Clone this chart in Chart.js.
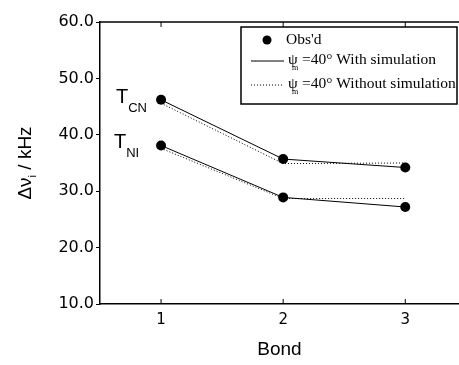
<!DOCTYPE html>
<html>
<head>
<meta charset="utf-8">
<script src="https://cdn.jsdelivr.net/npm/chart.js@4"></script>
<style>
  html, body { margin: 0; padding: 0; background: #fff; }
  #wrap { width: 459px; height: 365px; }
</style>
</head>
<body>
<div id="wrap"><canvas id="chart" width="459" height="365"></canvas></div>
<script>
// values
const bonds = [1, 2, 3];
const obsCN = [46.2, 35.7, 34.2];
const obsNI = [38.1, 28.9, 27.2];
const withSimCN = [46.2, 35.7, 34.2];
const withSimNI = [38.1, 28.9, 27.2];
const withoutSimCN = [45.6, 34.9, 35.0];
const withoutSimNI = [37.6, 28.7, 28.7];
const yTicks = [10, 20, 30, 40, 50, 60];
const legendLabels = ['Obs\'d', '=40° With simulation', '=40° Without simulation'];

const toPts = (ys) => bonds.map((b, i) => ({ x: b, y: ys[i] }));

// boxed legend, series labels, axis title with subscript, inward ticks
const extras = {
    id: 'extras',
    afterDraw(chart) {
        const ctx = chart.ctx;
        const area = chart.chartArea;
        const xs = chart.scales.x;
        const ys = chart.scales.y;
        ctx.save();
        ctx.strokeStyle = '#000';
        ctx.fillStyle = '#000';

        // top border and inward x ticks
        ctx.lineWidth = 1.5;
        ctx.beginPath();
        ctx.moveTo(area.left, area.top);
        ctx.lineTo(area.right, area.top);
        ctx.stroke();
        ctx.lineWidth = 1;
        bonds.forEach(b => {
            const px = xs.getPixelForValue(b);
            ctx.beginPath();
            ctx.moveTo(px, area.bottom);
            ctx.lineTo(px, area.bottom - 5);
            ctx.moveTo(px, area.top);
            ctx.lineTo(px, area.top + 5);
            ctx.stroke();
        });

        // T_CN / T_NI
        const tLabel = (main, sub, x, y, subDy) => {
            ctx.font = '20px "Liberation Sans"';
            ctx.textAlign = 'left';
            ctx.textBaseline = 'alphabetic';
            ctx.fillText(main, x, y);
            const w = ctx.measureText(main).width;
            ctx.font = '13px "Liberation Sans"';
            ctx.fillText(sub, x + w, y + subDy);
        };
        tLabel('T', 'CN', xs.left + 16, ys.getPixelForValue(45.6), 9);
        tLabel('T', 'NI', xs.left + 14, ys.getPixelForValue(37.6), 9);

        // y axis title: Δν_i / kHz
        ctx.save();
        ctx.translate(31, 163);
        ctx.rotate(-Math.PI / 2);
        const big = '19px "Liberation Sans"';
        const small = '11px "Liberation Sans"';
        const a = 'Δν';
        const c = ' / kHz';
        ctx.font = small;
        const wSub = ctx.measureText('i').width;
        ctx.font = big;
        const wA = ctx.measureText(a).width;
        const wC = ctx.measureText(c).width;
        const x0 = -(wA + wSub + wC) / 2;
        ctx.textAlign = 'left';
        ctx.fillText(a, x0, 0);
        ctx.font = small;
        ctx.fillText('i', x0 + wA, 5);
        ctx.font = big;
        ctx.fillText(c, x0 + wA + wSub, 0);
        ctx.restore();

        // legend box
        const lx = 241, ly = 27, lw = 216, lh = 77;
        ctx.fillStyle = '#fff';
        ctx.fillRect(lx, ly, lw, lh);
        ctx.fillStyle = '#000';
        ctx.lineWidth = 1.5;
        ctx.strokeRect(lx, ly, lw, lh);
        ctx.lineWidth = 1;

        ctx.beginPath();
        ctx.arc(267, 40, 4.5, 0, Math.PI * 2);
        ctx.fill();
        ctx.font = '15.5px "Liberation Serif"';
        ctx.textAlign = 'left';
        ctx.fillText(legendLabels[0], 286, 44);

        const rows = [[64, [], legendLabels[1]], [88, [1, 2], legendLabels[2]]];
        rows.forEach(([y, dash, label]) => {
            ctx.setLineDash(dash);
            ctx.beginPath();
            ctx.moveTo(251, y - 3);
            ctx.lineTo(284, y - 3);
            ctx.stroke();
            ctx.setLineDash([]);
            ctx.font = '15.5px "Liberation Serif"';
            ctx.fillText('ψ', 288, y);
            ctx.font = '8px "Liberation Serif"';
            ctx.fillText('m', 292, y + 6);
            ctx.font = '15.5px "Liberation Serif"';
            ctx.fillText(label, 302, y);
        });
        ctx.restore();
    }
};

const lineDs = (data, dash) => ({
    data: toPts(data),
    showLine: true,
    borderColor: '#000',
    borderWidth: 1,
    borderDash: dash,
    pointRadius: 0,
    fill: false,
    tension: 0
});

const dotDs = (data) => ({
    data: toPts(data),
    showLine: false,
    pointRadius: 5,
    pointBackgroundColor: '#000',
    pointBorderColor: '#000',
    pointBorderWidth: 0
});

new Chart(document.getElementById('chart'), {
    type: 'scatter',
    data: {
        datasets: [
            lineDs(withoutSimCN, [1, 2]),
            lineDs(withoutSimNI, [1, 2]),
            lineDs(withSimCN, []),
            lineDs(withSimNI, []),
            dotDs(obsCN),
            dotDs(obsNI)
        ]
    },
    options: {
        responsive: false,
        animation: false,
        layout: { autoPadding: false, padding: { top: 22, right: 0, left: 0, bottom: 0 } },
        plugins: {
            legend: { display: false },
            tooltip: { enabled: false }
        },
        scales: {
            x: {
                type: 'linear',
                min: 0.5,
                max: 3.44,
                afterBuildTicks: (s) => { s.ticks = bonds.map(v => ({ value: v })); },
                afterFit: (s) => { s.height = 61; s.paddingRight = 0; s.paddingLeft = 0; },
                grid: { drawOnChartArea: false, drawTicks: false },
                border: { color: '#000', width: 1.5 },
                ticks: {
                    color: '#000',
                    padding: 7,
                    font: { family: 'DejaVu Sans', size: 15 },
                    callback: (v) => String(v)
                },
                title: {
                    display: true,
                    text: 'Bond',
                    color: '#000',
                    font: { family: 'Liberation Sans', size: 19 },
                    padding: { top: 15 }
                }
            },
            y: {
                min: 10,
                max: 60,
                afterBuildTicks: (s) => { s.ticks = yTicks.map(v => ({ value: v })); },
                afterFit: (s) => { s.width = 100; },
                grid: { drawOnChartArea: false, tickLength: 4, color: '#000' },
                border: { color: '#000', width: 1.5 },
                ticks: {
                    color: '#000',
                    padding: 2,
                    font: { family: 'DejaVu Sans', size: 16 },
                    callback: (v) => v.toFixed(1)
                }
            }
        }
    },
    plugins: [extras]
});
</script>
</body>
</html>
